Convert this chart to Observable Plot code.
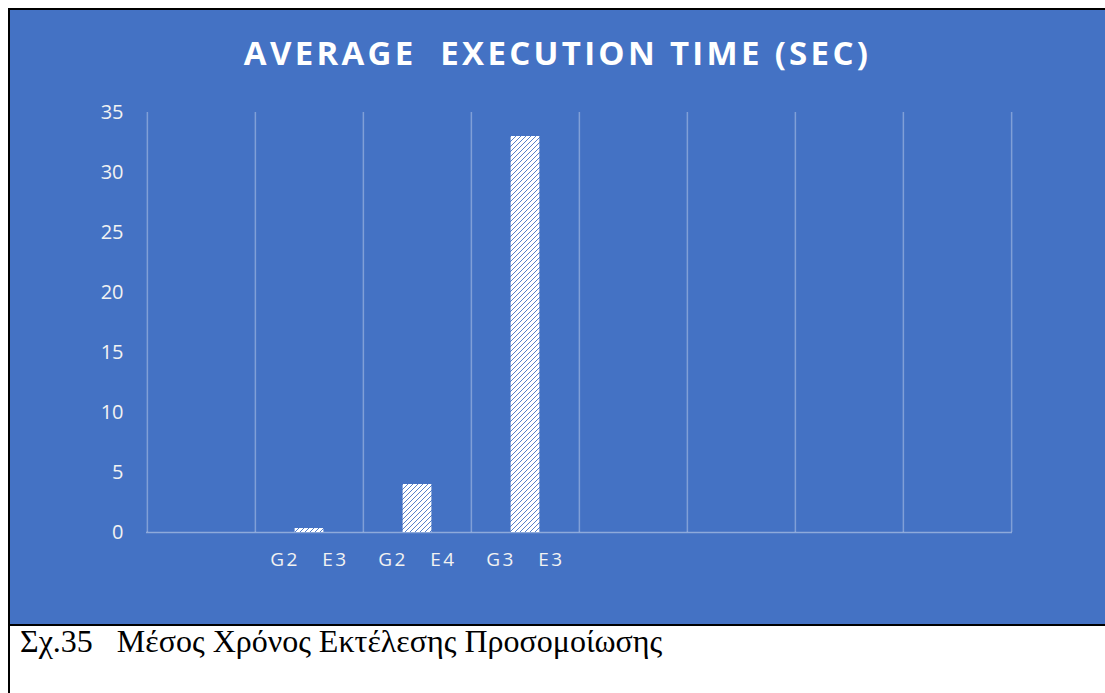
<!DOCTYPE html>
<html>
<head>
<meta charset="utf-8">
<script src="https://cdn.jsdelivr.net/npm/d3@7"></script>
<script src="https://cdn.jsdelivr.net/npm/@observablehq/plot@0.6"></script>
<style>
  html, body { margin: 0; padding: 0; background: #ffffff; }
  #frame {
    position: absolute; left: 8px; top: 8px; width: 1095px;
    border-left: 2px solid #000; border-top: 2px solid #000;
  }
  #panel {
    position: relative; width: 1095px; height: 614px; background: #4472C4;
    border-bottom: 2px solid #000;
  }
  #title {
    position: absolute; left: 0; top: 26px; width: 100%; text-align: center;
    font-family: "Open Sans", sans-serif; font-weight: 700; font-size: 33px;
    line-height: 33px; letter-spacing: 3.3px; color: #ffffff; white-space: pre;
  }
  #chart { position: absolute; left: 0; top: 87px; }
  #caption {
    height: 67px; padding-left: 10px;
    font-family: "Liberation Serif", "Times New Roman", serif; font-size: 32px;
    line-height: 30px; color: #000; white-space: pre;
  }
</style>
</head>
<body>
<div id="frame">
  <div id="panel">
    <div id="title"></div>
    <div id="chart"></div>
  </div>
  <div id="caption"></div>
</div>
<script>
const titleText = "AVERAGE  EXECUTION TIME (SEC)";
const captionText = "Σχ.35   Μέσος Χρόνος Εκτέλεσης Προσομοίωσης";
const categoryLabels = ["", "G2\u00a0\u00a0\u00a0E3", "G2\u00a0\u00a0\u00a0E4", "G3\u00a0\u00a0\u00a0E3", "", "", "", ""];
const executionTimes = [null, 0.33, 4.0, 33.0, null, null, null, null];
const yTicks = [0, 5, 10, 15, 20, 25, 30, 35];

document.getElementById("title").textContent = titleText;
document.getElementById("caption").textContent = captionText;

const width = 1095, height = 527;
const marginLeft = 136, marginRight = 93, marginTop = 15, marginBottom = 92;
const bandwidth = (width - marginLeft - marginRight) / categoryLabels.length;
const barWidth = 29;
const inset = (bandwidth - barWidth) / 2;

const indices = categoryLabels.map((_, i) => i);
const data = indices.filter(i => executionTimes[i] != null).map(i => ({i, value: executionTimes[i]}));
const gridColor = "rgba(255,255,255,0.32)";

const plot = Plot.plot({
  width, height, marginLeft, marginRight, marginTop, marginBottom,
  style: {background: "transparent", fontFamily: "'Open Sans', sans-serif", overflow: "visible"},
  x: {type: "band", domain: indices, padding: 0, label: null},
  y: {domain: [0, 35], label: null},
  marks: [
    Plot.ruleX(indices, {x: d => d, dx: -bandwidth / 2, y1: 0, y2: 35, stroke: gridColor, strokeWidth: 1.5}),
    Plot.ruleX([indices[indices.length - 1]], {x: d => d, dx: bandwidth / 2, y1: 0, y2: 35, stroke: gridColor, strokeWidth: 1.5}),
    Plot.ruleY([0], {stroke: "rgba(255,255,255,0.4)", strokeWidth: 1.5}),
    Plot.barY(data, {x: "i", y: "value", fill: "url(#hatch)", insetLeft: inset, insetRight: inset}),
    Plot.axisY({ticks: yTicks, tickSize: 0, tickPadding: 23, fontSize: 20, fill: "#f2f2f2", color: "#f2f2f2"}),
    Plot.axisX({tickSize: 0, tickPadding: 20, tickFormat: i => categoryLabels[i], fontSize: 19, fill: "#f2f2f2", color: "#f2f2f2"})
  ]
});

// hatch pattern for the bars
const svg = d3.select(plot);
const defs = svg.insert("defs", ":first-child");
const pat = defs.append("pattern")
  .attr("id", "hatch").attr("patternUnits", "userSpaceOnUse")
  .attr("width", 5).attr("height", 5);
pat.append("rect").attr("width", 5).attr("height", 5).attr("fill", "#ffffff");
pat.append("path").attr("d", "M-1,1 l2,-2 M0,5 l5,-5 M4,6 l2,-2")
  .attr("stroke", "#4472C4").attr("stroke-width", 0.9);

svg.selectAll("g[aria-label^='x-axis'] text").style("letter-spacing", "2.5px");

document.getElementById("chart").appendChild(plot);
</script>
</body>
</html>
